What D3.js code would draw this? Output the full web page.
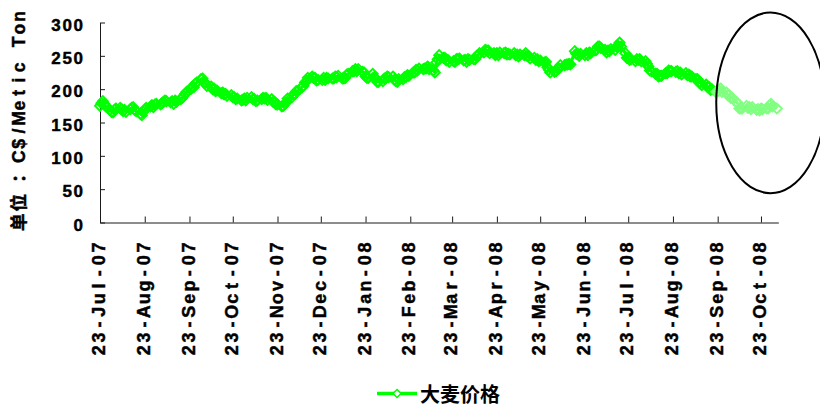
<!DOCTYPE html>
<html>
<head>
<meta charset="utf-8">
<script src="https://cdn.jsdelivr.net/npm/d3@7"></script>
<style>
  html, body { margin: 0; padding: 0; background: #fff; }
  svg { display: block; }
</style>
</head>
<body>
<svg id="chart" width="820" height="406"></svg>
<script>
// ---- data -------------------------------------------------------------
const seriesName = "大麦价格";
const yTitle = "单位：C$/Metic Ton";

const firstDay = "2007-07-23";      // first trading day in the series
const forecastFrom = "2008-09-23";  // from here on the series is drawn in a lighter tone
const axisEnd = "2008-11-04";

const tickDates = [
  "2007-07-23", "2007-08-23", "2007-09-23", "2007-10-23", "2007-11-23", "2007-12-23",
  "2008-01-23", "2008-02-23", "2008-03-23", "2008-04-23", "2008-05-23", "2008-06-23",
  "2008-07-23", "2008-08-23", "2008-09-23", "2008-10-23"
];
const yTicks = [0, 50, 100, 150, 200, 250, 300];

// daily closing price, C$/t, one row per week (Mon–Fri)
const prices = [
  175, 179, 182, 178, 174,
  169, 166, 165, 169, 171,
  172, 170, 167, 169, 166,
  170, 172, 173, 169, 167,
  163, 161, 166, 169, 172,
  174, 176, 173, 177, 178,
  177, 179, 181, 183, 182,
  180, 182, 178, 183, 181,
  185, 187, 190, 193, 196,
  200, 204, 203, 208, 210,
  215, 216, 211, 209, 205,
  204, 200, 201, 197, 198,
  194, 195, 192, 193, 190,
  191, 188, 188, 185, 186,
  183, 184, 186, 183, 187,
  188, 185, 185, 182, 183,
  185, 187, 186, 187, 184,
  185, 181, 181, 177, 177,
  174, 175, 178, 180, 186,
  188, 192, 193, 197, 197,
  203, 205, 210, 212, 217,
  219, 217, 217, 213, 214,
  214, 217, 214, 217, 216,
  216, 216, 219, 218, 220,
  216, 216, 217, 222, 223,
  227, 227, 230, 227, 230,
  226, 225, 219, 217, 217,
  223, 218, 216, 211, 211,
  212, 216, 216, 219, 218,
  219, 214, 212, 211, 215,
  215, 218, 218, 221, 220,
  225, 225, 229, 228, 231,
  230, 231, 231, 234, 230,
  228, 225, 240, 245, 251,
  247, 247, 243, 244, 241,
  242, 241, 245, 245, 246,
  243, 244, 241, 245, 244,
  245, 245, 250, 251, 254,
  255, 259, 258, 258, 254,
  254, 251, 254, 251, 255,
  254, 255, 252, 253, 252,
  254, 251, 252, 249, 252,
  251, 254, 250, 250, 246,
  247, 244, 245, 242, 243,
  240, 241, 233, 229, 225,
  226, 227, 231, 231, 236,
  236, 237, 237, 238, 237,
  257, 253, 253, 250, 253,
  251, 254, 251, 255, 254,
  258, 259, 264, 264, 262,
  259, 255, 258, 257, 260,
  259, 264, 265, 270, 264,
  254, 247, 247, 244, 245,
  242, 245, 244, 245, 242,
  242, 238, 234, 228, 227,
  223, 223, 219, 220, 220,
  224, 224, 228, 227, 227,
  226, 227, 224, 225, 222,
  224, 221, 222, 219, 219,
  215, 215, 210, 210, 206,
  207, 203, 203, 199, 200,
  196, 197, 198, 201, 196,
  195, 191, 191, 187, 187,
  181, 178, 171, 171, 171,
  175, 172, 173, 170, 173,
  169, 170, 168, 171, 170,
  171, 171, 176, 178, 174,
  171
];

// ringed period on the chart
const highlight = { from: "2008-09-22", to: "2008-12-06", low: 44, high: 315 };

// ---- setup ------------------------------------------------------------
const parse = d3.utcParse("%Y-%m-%d");
const GREEN = "#00ff00";
const LIGHT_GREEN = "#80ff80";
const AXIS = "#1a1a1a";
const SANS = "'Liberation Sans', Arial, sans-serif";
const CJK = "'Noto Sans CJK SC', sans-serif";

// trading days: weekdays starting at firstDay
const days = [];
for (let d = parse(firstDay); days.length < prices.length; d = d3.utcDay.offset(d, 1)) {
  const wd = d.getUTCDay();
  if (wd !== 0 && wd !== 6) days.push(d);
}
const points = prices.map((v, i) => ({ date: days[i], value: v }));
const split = parse(forecastFrom);
const splitIdx = points.findIndex(p => p.date >= split);
const actual = points.slice(0, splitIdx);
const later = points.slice(splitIdx - 1);

const svg = d3.select("#chart");

const x = d3.scaleUtc()
  .domain([parse(firstDay), parse(axisEnd)])
  .range([100, 778.3]);
const y = d3.scaleLinear()
  .domain([0, 300])
  .range([222.5, 22.5]);

// Lays a string out in fixed-width cells, one tspan per glyph (the
// labels use a typewriter-like pitch). align "end": cells run to x=0.
// nudge(c) moves a glyph inside its cell.
function cellText(text, str, cellOf, align, baseline, nudge = () => 0) {
  const chars = Array.from(str);
  const widths = chars.map(cellOf);
  let pos = align === "end" ? -d3.sum(widths) : 0;
  text.text(null).attr("text-anchor", "middle");
  chars.forEach((c, i) => {
    if (c !== " ") {
      text.append("tspan")
        .attr("x", pos + widths[i] / 2 + nudge(c))
        .attr("y", baseline)
        .text(c);
    }
    pos += widths[i];
  });
}

// heavy black lettering used for all axis text
function heavy(sel) {
  sel.attr("fill", "#000")
    .attr("stroke", "#000")
    .attr("stroke-width", 0.45)
    .attr("paint-order", "stroke");
}

// ---- axes -------------------------------------------------------------
const gx = svg.append("g")
  .attr("transform", `translate(0,${y(0)})`)
  .call(d3.axisBottom(x)
    .tickValues(tickDates.map(parse))
    .tickFormat(d3.utcFormat("%d-%b-%y"))
    .tickSize(-6)
    .tickSizeOuter(0));
gx.attr("font-family", SANS).attr("font-size", 18).attr("font-weight", "bold");
gx.select(".domain").attr("stroke", AXIS);
gx.selectAll(".tick line").attr("stroke", AXIS);
gx.selectAll(".tick text").each(function () {
  const t = d3.select(this);
  const label = t.text();
  t.attr("x", null).attr("y", null).attr("dy", null)
    .attr("transform", "translate(0,18.5) rotate(-90)")
    .call(heavy);
  cellText(t, label, () => 12.85, "end", 4.6);
});

const gy = svg.append("g")
  .attr("transform", `translate(${x(parse(firstDay))},0)`)
  .call(d3.axisLeft(y)
    .tickValues(yTicks)
    .tickSize(-5)
    .tickPadding(15.5)
    .tickSizeOuter(0));
gy.attr("font-family", SANS).attr("font-size", 17).attr("font-weight", "bold");
gy.select(".domain").attr("stroke", AXIS);
gy.selectAll(".tick line").attr("stroke", AXIS);
gy.selectAll(".tick text")
  .attr("dy", "0.45em")
  .attr("letter-spacing", 1.6)
  .call(heavy);

// axis title, read bottom-to-top
const title = svg.append("text")
  .attr("transform", "translate(24.5,232) rotate(-90)")
  .attr("font-family", `'Liberation Sans', ${CJK}`)
  .attr("font-size", 17.5)
  .attr("font-weight", "bold")
  .call(heavy);
cellText(title, yTitle,
  c => (c === "：" ? 30 : /[\u4e00-\u9fff]/.test(c) ? 19.5 : 12.75),
  "start", 0,
  c => (c === "：" ? 4 : 0));

// ---- series -----------------------------------------------------------
const diamond = "M0,-5L5,0L0,5L-5,0Z";
const line = d3.line().x(d => x(d.date)).y(d => y(d.value));

function drawSeries(data, color) {
  const g = svg.append("g");
  g.append("path")
    .attr("d", line(data))
    .attr("fill", "none")
    .attr("stroke", color)
    .attr("stroke-width", 3)
    .attr("stroke-linejoin", "round");
  g.selectAll("path.mark")
    .data(data)
    .join("path")
    .attr("class", "mark")
    .attr("d", diamond)
    .attr("transform", d => `translate(${x(d.date)},${y(d.value)})`)
    .attr("fill", "none")
    .attr("stroke", color)
    .attr("stroke-width", 1.9);
}
drawSeries(actual, GREEN);
drawSeries(later, LIGHT_GREEN);

// ---- ring around the latest period -----------------------------------
const hx0 = x(parse(highlight.from)), hx1 = x(parse(highlight.to));
const hy0 = y(highlight.high), hy1 = y(highlight.low);
svg.append("ellipse")
  .attr("cx", (hx0 + hx1) / 2)
  .attr("cy", (hy0 + hy1) / 2)
  .attr("rx", (hx1 - hx0) / 2)
  .attr("ry", (hy1 - hy0) / 2)
  .attr("fill", "none")
  .attr("stroke", "#000")
  .attr("stroke-width", 2);

// ---- legend -----------------------------------------------------------
const lg = svg.append("g").attr("transform", "translate(377,393.5)");
lg.append("line")
  .attr("x1", 0).attr("x2", 40)
  .attr("stroke", GREEN)
  .attr("stroke-width", 3.5);
lg.append("path")
  .attr("d", "M0,-4L4,0L0,4L-4,0Z")
  .attr("transform", "translate(20,0)")
  .attr("fill", "#fff")
  .attr("stroke", GREEN)
  .attr("stroke-width", 1.5);
lg.append("text")
  .attr("x", 43).attr("y", 8)
  .attr("font-family", CJK)
  .attr("font-size", 20)
  .attr("font-weight", "bold")
  .attr("fill", "#000")
  .text(seriesName);
</script>
</body>
</html>
